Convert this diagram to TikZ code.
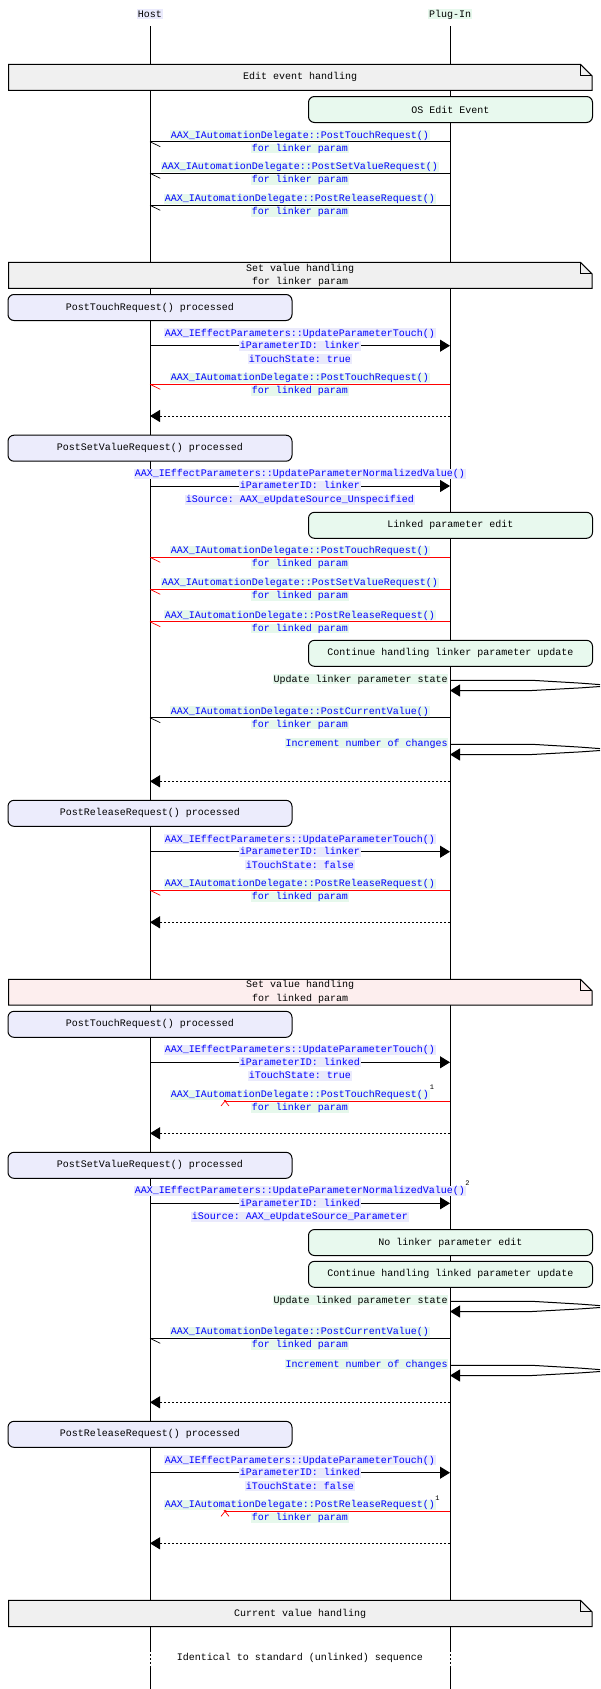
\documentclass[tikz,border=0pt]{standalone}
\usepackage{fontspec}
\setmonofont{Liberation Mono}
\usetikzlibrary{arrows.meta,calc}
\definecolor{hostbg}{RGB}{234,234,252}
\definecolor{plugbg}{RGB}{230,248,236}
\definecolor{hostbox}{RGB}{236,236,252}
\definecolor{plugbox}{RGB}{232,249,238}
\definecolor{notegray}{RGB}{240,240,240}
\definecolor{notepink}{RGB}{253,238,238}
\definecolor{arcblue}{RGB}{0,0,255}
\definecolor{arcred}{RGB}{255,0,0}
\newcommand\arcfont{\ttfamily\fontsize{10}{13.6}\selectfont}
\tikzset{
 lbl/.style={font=\arcfont, inner xsep=0.6pt, inner ysep=0pt, text height=7.6pt, text depth=2.2pt},
 hl/.style={lbl, text=arcblue, fill=hostbg},
 pl/.style={lbl, text=arcblue, fill=plugbg},
 plk/.style={lbl, text=black, fill=plugbg},
 hbox/.style={draw, line width=1pt, rounded corners=6pt, fill=hostbox, minimum width=284pt, minimum height=26pt, font=\arcfont, inner sep=0pt},
 pbox/.style={hbox, fill=plugbox},
 arcw/.style={line width=1pt},
 headtip/.style={-{Triangle[length=10pt,width=12pt]}},
 callarc/.style={arcw, headtip},
 retarc/.style={arcw, headtip, dash pattern=on 2pt off 2pt},
 supnum/.style={font=\ttfamily\fontsize{7}{8}\selectfont, inner sep=0pt},
}
\newcommand\CallArc[5]{%
 \coordinate (h#1) at (150,#2);
 \coordinate (p#1) at (450,#2);
 \draw[callarc] (h#1) -- (p#1);
 \node[hl] (#1a) at (300,#2-12.4) {#3};
 \node[hl] (#1b) at (300,#2) {#4};
 \node[hl] (#1c) at (300,#2+13.6) {#5};
}
\newcommand\MsgArc[5]{%
 \coordinate (h#1) at (150,#2);
 \coordinate (p#1) at (450,#2);
 \coordinate (k#1) at (160.3,#2+5);
 \draw[arcw, draw=#3] (p#1) -- (h#1);
 \draw[line width=0.7pt, draw=#3] (h#1) -- (k#1);
 \node[pl] (#1a) at (300,#2-6.4) {#4};
 \node[pl] (#1b) at (300,#2+6.8) {#5};
}
\newcommand\LostArc[6]{%
 \coordinate (p#1) at (450,#2);
 \coordinate (x#1) at (225,#2);
 \draw[arcw, draw=arcred] (p#1) -- (x#1);
 \draw[line width=0.7pt, arcred] ($(x#1)+(-4,-5)$) -- ($(x#1)+(4,5)$) ($(x#1)+(-4,5)$) -- ($(x#1)+(4,-5)$);
 \node[pl] (#1a) at (300,#2-6.4) {#3};
 \node[pl] (#1b) at (300,#2+6.8) {#4};
 \node[supnum] (#1s) at (#6,#2-13.5) {#5};
}
\newcommand\RetArc[2]{%
 \coordinate (p#1) at (450,#2);
 \coordinate (h#1) at (150,#2);
 \draw[retarc] (p#1) -- (h#1);
}
\newcommand\SelfArc[4]{%
 \coordinate (s#1) at (450,#2);
 \coordinate (t#1) at (450,#2+10.2);
 \coordinate (e#1) at (600,#2+4.3);
 \coordinate (f#1) at (600,#2+6.2);
 \draw[arcw] (s#1) -- ++(82,0) -- ++(48,2.8) -- (e#1);
 \draw[arcw, headtip] (f#1) -- ++(-20,1.4) -- ++(-48,2.6) -- (t#1);
 \node[#3, anchor=east] (#1l) at (448.5,#2-1) {#4};
}
\newcommand\NoteBox[5]{%
 \draw[arcw, fill=#4] (8.5,#2) -- (580.5,#2) -- (592,#2+11.5) -- (592,#3) -- (8.5,#3) -- cycle;
 \draw[line width=0.8pt] (580.5,#2) -- (580.5,#2+11.5) -- (592,#2+11.5);
 \node[font=\arcfont, align=center, inner sep=0pt] (#1) at (300.25,{(#2+#3)/2}) {#5};
}
\begin{document}
\begin{tikzpicture}[x=1pt,y=-1pt]
\useasboundingbox[fill=white] (0,0) rectangle (600,1689);
% entities
\node[lbl, fill=hostbg] (host) at (150,14.3) {Host};
\node[lbl, fill=plugbg] (plug) at (450,14.3) {Plug-In};
\coordinate (hT) at (150,26); \coordinate (hG1) at (150,1650); \coordinate (hG2) at (150,1666); \coordinate (hB) at (150,1689);
\coordinate (pT) at (450,26); \coordinate (pG1) at (450,1650); \coordinate (pG2) at (450,1666); \coordinate (pB) at (450,1689);
\draw[arcw] (hT) -- (hG1); \draw[line width=0.8pt, dash pattern=on 2pt off 2pt] (hG1) -- (hG2); \draw[arcw] (hG2) -- (hB);
\draw[arcw] (pT) -- (pG1); \draw[line width=0.8pt, dash pattern=on 2pt off 2pt] (pG1) -- (pG2); \draw[arcw] (pG2) -- (pB);

\NoteBox{n1}{64.3}{90.3}{notegray}{Edit event handling}
\node[pbox] (b1) at (450.5,109.5) {OS Edit Event};
\MsgArc{m1}{141.7}{black}{AAX\_IAutomationDelegate::PostTouchRequest()}{for linker param}
\MsgArc{m2}{173.3}{black}{AAX\_IAutomationDelegate::PostSetValueRequest()}{for linker param}
\MsgArc{m3}{205.3}{black}{AAX\_IAutomationDelegate::PostReleaseRequest()}{for linker param}

\NoteBox{n2}{262.3}{288.3}{notegray}{Set value handling\\for linker param}
\node[hbox] (b2) at (150,307.5) {PostTouchRequest() processed};
\CallArc{c1}{345.7}{AAX\_IEffectParameters::UpdateParameterTouch()}{iParameterID: linker}{iTouchState: true}
\MsgArc{m4}{384.3}{arcred}{AAX\_IAutomationDelegate::PostTouchRequest()}{for linked param}
\RetArc{r1}{416}
\node[hbox] (b3) at (150,448.2) {PostSetValueRequest() processed};
\CallArc{c2}{486}{AAX\_IEffectParameters::UpdateParameterNormalizedValue()}{iParameterID: linker}{iSource: AAX\_eUpdateSource\_Unspecified}
\node[pbox] (b4) at (450.5,525.3) {Linked parameter edit};
\MsgArc{m5}{557.3}{arcred}{AAX\_IAutomationDelegate::PostTouchRequest()}{for linked param}
\MsgArc{m6}{589.3}{arcred}{AAX\_IAutomationDelegate::PostSetValueRequest()}{for linked param}
\MsgArc{m7}{621.7}{arcred}{AAX\_IAutomationDelegate::PostReleaseRequest()}{for linked param}
\node[pbox] (b5) at (450.5,653.3) {Continue handling linker parameter update};
\SelfArc{s1}{680.3}{plk}{Update linker parameter state}
\MsgArc{m8}{717.7}{black}{AAX\_IAutomationDelegate::PostCurrentValue()}{for linker param}
\SelfArc{s2}{744.3}{pl}{Increment number of changes}
\RetArc{r2}{781.3}
\node[hbox] (b6) at (150,813.3) {PostReleaseRequest() processed};
\CallArc{c3}{851.7}{AAX\_IEffectParameters::UpdateParameterTouch()}{iParameterID: linker}{iTouchState: false}
\MsgArc{m9}{890.3}{arcred}{AAX\_IAutomationDelegate::PostReleaseRequest()}{for linked param}
\RetArc{r3}{922.3}

\NoteBox{n3}{979.3}{1005}{notepink}{Set value handling\\for linked param}
\node[hbox] (b7) at (150,1024.3) {PostTouchRequest() processed};
\CallArc{c4}{1062.3}{AAX\_IEffectParameters::UpdateParameterTouch()}{iParameterID: linked}{iTouchState: true}
\LostArc{x1}{1101}{AAX\_IAutomationDelegate::PostTouchRequest()}{for linker param}{1}{432}
\RetArc{r4}{1133.3}
\node[hbox] (b8) at (150,1165.3) {PostSetValueRequest() processed};
\CallArc{c5}{1203.3}{AAX\_IEffectParameters::UpdateParameterNormalizedValue()}{iParameterID: linked}{iSource: AAX\_eUpdateSource\_Parameter}
\node[supnum] (c5s) at (467.5,1183.3) {2};
\node[pbox] (b9) at (450.5,1242.5) {No linker parameter edit};
\node[pbox] (b10) at (450.5,1274.3) {Continue handling linked parameter update};
\SelfArc{s3}{1301.3}{plk}{Update linked parameter state}
\MsgArc{m10}{1338.3}{black}{AAX\_IAutomationDelegate::PostCurrentValue()}{for linked param}
\SelfArc{s4}{1365.3}{pl}{Increment number of changes}
\RetArc{r5}{1402.3}
\node[hbox] (b11) at (150,1434.3) {PostReleaseRequest() processed};
\CallArc{c6}{1472.7}{AAX\_IEffectParameters::UpdateParameterTouch()}{iParameterID: linked}{iTouchState: false}
\LostArc{x2}{1511.3}{AAX\_IAutomationDelegate::PostReleaseRequest()}{for linker param}{1}{437.5}
\RetArc{r6}{1543.3}

\NoteBox{n4}{1600.3}{1626.7}{notegray}{Current value handling}
\node[font=\arcfont, inner sep=0pt] (gap) at (300,1658.3) {Identical to standard (unlinked) sequence};
\end{tikzpicture}
\end{document}
